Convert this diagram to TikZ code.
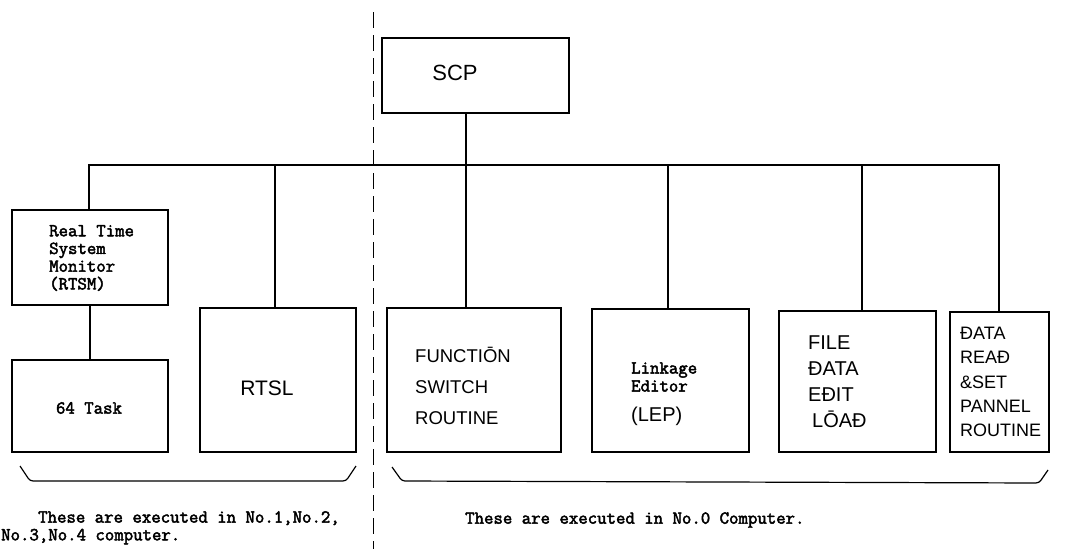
\documentclass[tikz,border=0pt]{standalone}
\usepackage{fontspec}
\newfontfamily\tw[FakeBold=2.5]{Latin Modern Mono}
\newfontfamily\hw{Liberation Sans}
\begin{document}
\begin{tikzpicture}[x=1pt,y=-1pt,
  box/.style={draw, line width=1.3pt, inner sep=0pt, rectangle},
  conn/.style={line width=1.2pt},
  divider/.style={line width=1pt, dash pattern=on 16pt off 7pt},
  brace/.style={line width=1.2pt, rounded corners=3pt},
  tt/.style={font=\tw\fontsize{18.3}{17.7}\selectfont, inner sep=0pt, align=left},
  hand/.style={font=\hw\fontsize{18}{25}\selectfont, inner sep=0pt, align=left}]
\useasboundingbox (0,0) rectangle (1067,549);

% divider
\coordinate (dtop) at (373,12);
\coordinate (dbot) at (373,549);
\draw[divider] (dtop) -- (dbot);

% boxes
\node[box, minimum width=187pt, minimum height=75pt]  (scp)  at (475.5,75.5) {};
\node[box, minimum width=156pt, minimum height=95pt]  (rtsm) at (90,257.5) {};
\node[box, minimum width=156pt, minimum height=92pt]  (task) at (90,406) {};
\node[box, minimum width=156pt, minimum height=144pt] (rtsl) at (278,380) {};
\node[box, minimum width=174pt, minimum height=144pt] (func) at (474,380) {};
\node[box, minimum width=157pt, minimum height=143pt] (lep)  at (670.5,380.5) {};
\node[box, minimum width=157pt, minimum height=141pt] (file) at (857.5,381.5) {};
\node[box, minimum width=99pt,  minimum height=140pt] (dset) at (999.5,382) {};

% texts
\node[hand, font=\hw\fontsize{22}{26}\selectfont] (scpt) at (455,73) {SCP};
\node[tt, anchor=west] (rtsmt) at (49,258) {Real Time\\System\\Monitor\\(RTSM)};
\node[tt] (taskt) at (89,408) {64 Task};
\node[hand, font=\hw\fontsize{21}{24}\selectfont] (rtslt) at (267,388) {RTSL};
\node[hand, anchor=west, font=\hw\fontsize{18.5}{31}\selectfont] (funct) at (415,386) {FUNCTIŌN\\SWITCH\\ROUTINE};
\node[tt, anchor=west, font=\tw\fontsize{18.3}{18}\selectfont] (lept) at (631,377) {Linkage\\Editor};
\node[hand, anchor=west, font=\hw\fontsize{20}{24}\selectfont] (lepp) at (631,416) {(LEP)};
\node[hand, anchor=west, font=\hw\fontsize{20}{26}\selectfont] (filet) at (808,382) {FILE\\ĐATA\\EĐIT\\\hspace*{4pt}LŌAĐ};
\node[hand, anchor=west, font=\hw\fontsize{18}{24.2}\selectfont] (dsett) at (960,382) {ĐATA\\REAĐ\\\&SET\\PANNEL\\ROUTINE};

% bus and connectors
\coordinate (bl) at (89,165);
\coordinate (bs) at (466,165);
\coordinate (b2) at (275,165);
\coordinate (b4) at (668,165);
\coordinate (b5) at (862,165);
\coordinate (br) at (999,165);
\draw[conn] (rtsm.north -| bl) -- (bl) -- (br) -- (dset.north -| br);
\draw[conn] (scp.south -| bs) -- (bs) -- (func.north -| bs);
\draw[conn] (b2) -- (rtsl.north -| b2);
\draw[conn] (b4) -- (lep.north -| b4);
\draw[conn] (b5) -- (file.north -| b5);
\draw[conn] (rtsm.south) -- (task.north);

% braces
\draw[brace] (20,466) -- (30,481) -- (346,481) -- (356,466);
\draw[brace] (392,467) -- (402,481) -- (1039,483) -- (1048,470);

% notes
\node[tt, anchor=north west] (noteL) at (1,511) {\hspace*{37pt}These are executed in No.1,No.2,\\No.3,No.4 computer.};
\node[tt, anchor=west] (noteR) at (465,520) {These are executed in No.0 Computer.};
\end{tikzpicture}
\end{document}
